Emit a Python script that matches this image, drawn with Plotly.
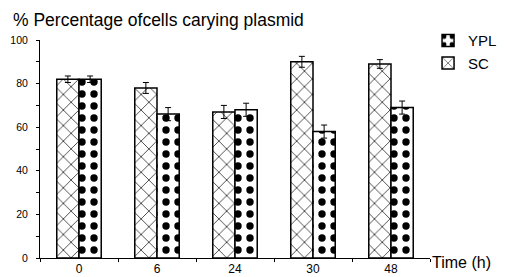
import plotly.graph_objects as go

times = ["0", "6", "24", "30", "48"]
sc_values = [82, 78, 67, 90, 89]
sc_err = [1.5, 2.5, 3, 2.5, 2]
ypl_values = [82, 66, 68, 58, 69]
ypl_err = [1.5, 3, 3, 3, 3]
y_ticks = [0, 20, 40, 60, 80, 100]

font = "Liberation Sans, Arial, sans-serif"

fig = go.Figure()
fig.add_trace(go.Bar(
    x=times, y=sc_values, name="SC", legendgroup="sc",
    marker=dict(color="white", line=dict(color="black", width=1.5),
                pattern=dict(shape="x", fgcolor="black", bgcolor="white", fgopacity=1,
                             size=11, solidity=0.12)),
    error_y=dict(type="data", array=sc_err, color="black", thickness=1, width=3),
))
fig.add_trace(go.Bar(
    x=times, y=ypl_values, name="YPL", legendgroup="ypl",
    marker=dict(color="white", line=dict(color="black", width=1.5),
                pattern=dict(shape=".", fgcolor="black", bgcolor="white", fgopacity=1,
                             size=12, solidity=0.3)),
    error_y=dict(type="data", array=ypl_err, color="black", thickness=1, width=3),
))

# page has an 8px body margin: figure coords are shifted by 8px
fig.update_layout(
    width=505, height=277,
    margin=dict(l=32, r=83, t=32, b=27, autoexpand=False),
    paper_bgcolor="white", plot_bgcolor="white",
    barmode="group", bargap=0.43, bargroupgap=0,
    font=dict(family=font, color="black", size=10),
    title=dict(text="% Percentage ofcells carying plasmid", x=5/505, xanchor="left",
               y=1 - 12/277, yanchor="middle", font=dict(size=17.5, family=font, color="black")),
    legend=dict(x=0.995, xanchor="left", y=1.072, yanchor="top", traceorder="reversed",
                font=dict(size=15, family=font, color="black"), tracegroupgap=4,
                bgcolor="rgba(0,0,0,0)", itemwidth=30),
    showlegend=True,
)
fig.update_xaxes(
    automargin=False,
    showline=True, linecolor="black", linewidth=1, showgrid=False,
    ticks="outside", ticklen=3, tickcolor="black", tickson="boundaries",
    tickfont=dict(size=12, family=font), ticklabelstandoff=0,
)
fig.update_yaxes(
    automargin=False,
    range=[0, 100], showline=True, linecolor="black", linewidth=1, showgrid=False,
    zeroline=False, tickvals=y_ticks, ticks="outside", ticklen=3, tickcolor="black",
    tickfont=dict(size=10.5, family=font), ticklabelstandoff=6,
    minor=dict(dtick=10, ticks="outside", ticklen=3, tickcolor="black"),
)
fig.add_annotation(text="Time (h)", x=1.0, xref="paper", xanchor="left", xshift=0,
                   y=0, yref="paper", yanchor="middle", yshift=-4, showarrow=False,
                   font=dict(size=16, family=font, color="black"))

fig.write_html("out.html")
